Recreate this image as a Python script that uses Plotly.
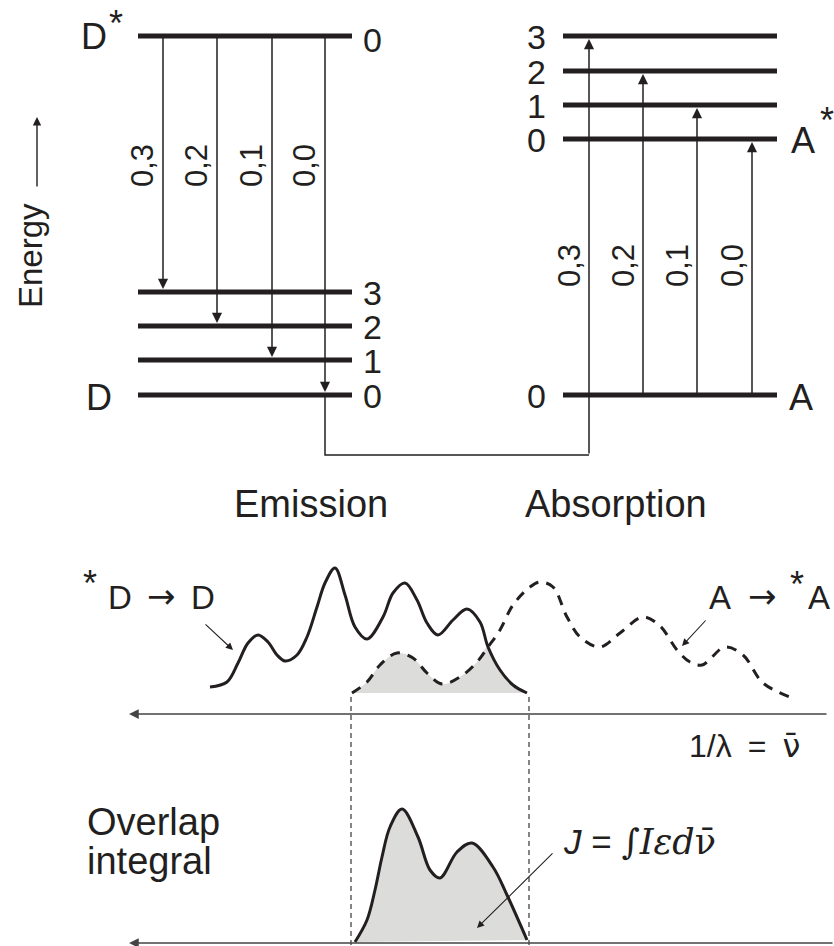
import plotly.graph_objects as go

FONT = "Liberation Sans, Arial, Helvetica, sans-serif"
SERIF = "Liberation Serif, Times New Roman, serif"
INK = "#231f20"
AXIS = "#444444"
SHADE = "#dcdcda"

# ---------------- data (diagram units; y grows downward) ----------------
donor_excited = [36]                      # D*  v = 0
donor_ground = [395, 360, 326, 292]       # D   v = 0..3
acceptor_ground = [395]                   # A   v = 0
acceptor_excited = [139, 105, 71, 36]     # A*  v = 0..3
vib_labels = ["0", "1", "2", "3"]

emission_labels = ["0,3", "0,2", "0,1", "0,0"]
emission_x = [163, 217, 272, 325]
emission_final_v = [3, 2, 1, 0]

absorption_labels = ["0,3", "0,2", "0,1", "0,0"]
absorption_x = [589, 643, 697, 752]
absorption_final_v = [3, 2, 1, 0]

# emission spectrum  *D -> D  (solid)
emission_nu = [210, 227, 238, 248, 258, 268, 277, 285, 297, 307, 317, 325, 335,
               345, 355, 367, 383, 393, 405, 417, 427, 438, 453, 467, 480, 488,
               500, 513, 527]
emission_I = [687, 682, 663, 643, 635, 642, 655, 661, 655, 637, 607, 583, 568,
              595, 627, 639, 617, 593, 583, 600, 623, 635, 620, 609, 622, 647,
              670, 685, 693]

# absorption spectrum  A -> *A  (dashed)
absorption_nu = [352, 367, 380, 397, 413, 427, 442, 460, 477, 488, 500, 513,
                 530, 540, 553, 567, 580, 600, 620, 643, 660, 677, 690, 702,
                 725, 743, 763, 790]
absorption_eps = [693, 682, 665, 653, 658, 673, 684, 677, 662, 647, 630, 605,
                  587, 582, 587, 617, 637, 647, 633, 617, 626, 650, 662, 665,
                  647, 655, 683, 697]
crossing_nu = 488

# overlap integral curve
overlap_nu = [355, 367, 375, 382, 390, 402, 418, 430, 440, 457, 472, 493, 507, 527]
overlap_J = [942, 920, 890, 857, 827, 809, 837, 870, 878, 852, 843, 867, 895, 940]

# ---------------- figure ----------------
fig = go.Figure()


def seg_trace(xs, ys, width, color=INK, dash=None):
    fig.add_trace(go.Scatter(x=xs, y=ys, mode="lines", hoverinfo="skip",
                             line=dict(color=color, width=width, dash=dash),
                             showlegend=False))


def text(x, y, s, size, family=FONT, angle=0, xanchor="center"):
    fig.add_annotation(x=x, y=y, text=s, showarrow=False, textangle=angle,
                       xanchor=xanchor, yanchor="middle",
                       font=dict(family=family, size=size, color=INK))


def arrow(x0, y0, x1, y1, width=1.5, size=1.25, color=INK):
    fig.add_annotation(x=x1, y=y1, ax=x0, ay=y0, xref="x", yref="y",
                       axref="x", ayref="y", text="", showarrow=True,
                       arrowhead=2, arrowsize=size, arrowwidth=width,
                       arrowcolor=color, standoff=0, startstandoff=0)


# energy levels
D_X = (138, 352)
A_X = (563, 777)
lx, ly = [], []
for lev in donor_excited + donor_ground:
    lx += [D_X[0], D_X[1], None]
    ly += [lev, lev, None]
for lev in acceptor_ground + acceptor_excited:
    lx += [A_X[0], A_X[1], None]
    ly += [lev, lev, None]
seg_trace(lx, ly, 4.8)

# emission transitions (downward)
for xv, v in zip(emission_x, emission_final_v):
    arrow(xv, donor_excited[0], xv, donor_ground[v] - 3, size=1.35)

# connector from D v=0 to A v=0 -> A* v=3 path
conn_x = [emission_x[3], emission_x[3], absorption_x[0]]
conn_y = [donor_ground[0], 455, 455]
seg_trace(conn_x, conn_y, 1.5)

# absorption transitions (upward)
for i, (xv, v) in enumerate(zip(absorption_x, absorption_final_v)):
    start = 455 if i == 0 else acceptor_ground[0]
    arrow(xv, start, xv, acceptor_excited[v] + 3, size=1.35)

# transition labels
for xv, lab in zip(emission_x, emission_labels):
    text(xv - 21, 166, lab, 31, angle=-90)
for xv, lab in zip(absorption_x, absorption_labels):
    text(xv - 20, 266, lab, 31, angle=-90)

# vibrational level labels
text(372, donor_excited[0] + 4, vib_labels[0], 34)
for v, lev in enumerate(donor_ground):
    text(372, lev + 1, vib_labels[v], 34)
for v, lev in enumerate(acceptor_excited):
    text(536, lev + 1, vib_labels[v], 34)
text(536, acceptor_ground[0] + 1, vib_labels[0], 34)

# state labels
text(94, 36, "D", 36)
text(116, 23, "*", 36)
text(99, 397, "D", 36)
text(803, 140, "A", 36)
text(827, 120, "*", 36)
text(801, 397, "A", 36)

# energy axis label
text(30, 256, "Energy", 33, angle=-90)
arrow(37, 188, 37, 117, width=1.4, size=1.2)

text(311, 504, "Emission", 38)
text(616, 504, "Absorption", 38)

# ---------------- spectra ----------------
# shaded overlap in the spectra panel
sh_x = [n for n in absorption_nu if n <= crossing_nu] + \
       [n for n in emission_nu if n > crossing_nu]
sh_y = [e for n, e in zip(absorption_nu, absorption_eps) if n <= crossing_nu] + \
       [e for n, e in zip(emission_nu, emission_I) if n > crossing_nu]
fig.add_trace(go.Scatter(x=sh_x, y=sh_y, mode="lines", fill="toself",
                         fillcolor=SHADE, line=dict(width=0, shape="spline"),
                         hoverinfo="skip", showlegend=False))

fig.add_trace(go.Scatter(x=emission_nu, y=emission_I, mode="lines",
                         line=dict(color=INK, width=3, shape="spline"),
                         hoverinfo="skip", showlegend=False))
fig.add_trace(go.Scatter(x=absorption_nu, y=absorption_eps, mode="lines",
                         line=dict(color=INK, width=3, shape="spline",
                                   dash="10px,8px"),
                         hoverinfo="skip", showlegend=False))

# wavenumber axis (top)
arrow(828, 714, 129, 714, width=1.5, size=1.3, color=AXIS)
# wavenumber axis (bottom)
arrow(834, 943, 129, 943, width=1.5, size=1.3, color=AXIS)

# dashed vertical guides
seg_trace([351, 351], [697, 946], 1.3, color=AXIS, dash="5px,4px")
seg_trace([529, 529], [697, 946], 1.3, color=AXIS, dash="5px,4px")

# overlap integral curve
fig.add_trace(go.Scatter(x=overlap_nu, y=overlap_J, mode="lines", fill="toself",
                         fillcolor=SHADE,
                         line=dict(color=INK, width=3, shape="spline"),
                         hoverinfo="skip", showlegend=False))

# spectral labels
ARROW_FONT = "DejaVu Sans, sans-serif"
text(90, 583, "*", 36)
text(120, 597, "D", 33)
text(161, 596, "→", 34, family=ARROW_FONT)
text(203, 597, "D", 33)
arrow(204, 623, 233, 650, width=1.1, size=1.3)

text(720, 597, "A", 33)
text(762, 596, "→", 34, family=ARROW_FONT)
text(797, 584, "*", 36)
text(819, 597, "A", 33)
arrow(707, 619, 682, 646, width=1.1, size=1.3)

text(687, 746, "1/λ\u2002=\u2002<span style='font-family:DejaVu Sans'>ν̄</span>", 32,
     xanchor="left")

text(85, 822, "Overlap", 38, xanchor="left")
text(85, 861, "integral", 38, xanchor="left")

text(561, 842, "<i>J</i> = <span style='font-family:DejaVu Serif'>∫"
               "<i>Iεd</i>ν̄</span>", 35, xanchor="left")
arrow(554, 852, 477, 928, width=1.1, size=1.3)

fig.update_xaxes(range=[0, 834], visible=False, fixedrange=True)
fig.update_yaxes(range=[946, 0], visible=False, fixedrange=True)
fig.update_layout(width=834, height=946, autosize=False,
                  margin=dict(l=0, r=0, t=0, b=0),
                  paper_bgcolor="white", plot_bgcolor="white",
                  showlegend=False)

fig.write_html("out.html", config={"displayModeBar": False},
               post_script="document.body.style.margin='0';"
                           "document.body.style.overflow='hidden';")
